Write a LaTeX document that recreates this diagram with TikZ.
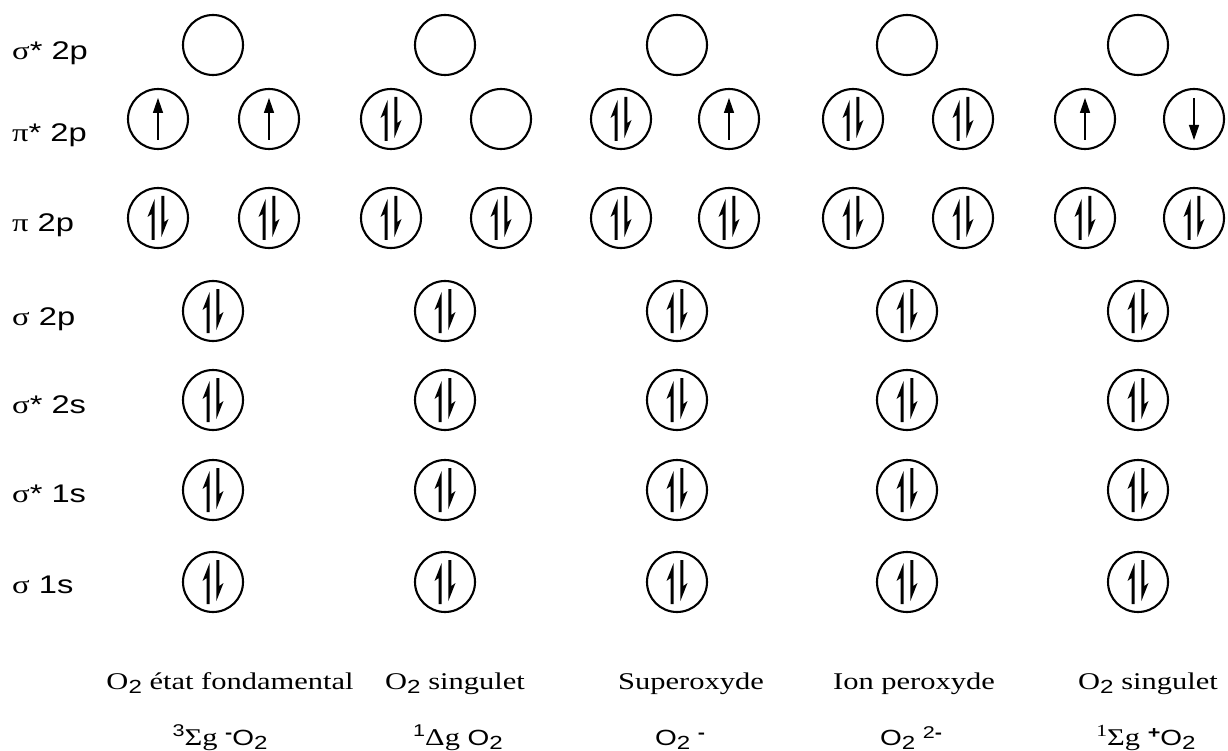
\documentclass[tikz,border=0pt]{standalone}
\usepackage{fontspec}
\setmainfont{Liberation Serif}
\setsansfont{Liberation Sans}
\usetikzlibrary{calc}

% raised / lowered sans-serif indices
\newcommand\supsf[2][9pt]{\raisebox{#1}{\fontsize{17}{17}\selectfont\sffamily #2}}
\newcommand\subsf[1]{\raisebox{-4pt}{\fontsize{19}{19}\selectfont\sffamily #1}}
\newcommand\oxy{{\sffamily\fontsize{22}{22}\selectfont O}}

% electron spins drawn inside an orbital node
\newcommand\spinpair[1]{%
  \begin{scope}[shift={(#1.center)}]
    \fill (-3.4,-19) -- (-10.5,-1) -- (-6.4,-4) -- (-6.4,22) -- (-3.4,22) -- cycle;
    \fill (3.4,19) -- (10.5,1) -- (6.4,4) -- (6.4,-22) -- (3.4,-22) -- cycle;
  \end{scope}}
\newcommand\spinup[1]{%
  \begin{scope}[shift={(#1.center)}]
    \draw[line width=2.4pt] (0,21) -- (0,-8);
    \fill (0,-21) -- (-5.2,-6) -- (5.2,-6) -- cycle;
  \end{scope}}
\newcommand\spindown[1]{%
  \begin{scope}[shift={(#1.center)}]
    \draw[line width=2.4pt] (0,-21) -- (0,8);
    \fill (0,21) -- (-5.2,6) -- (5.2,6) -- cycle;
  \end{scope}}

\tikzset{
  orb/.style={circle, draw, line width=2.1pt, minimum size=60pt, inner sep=0pt},
  lvl/.style={anchor=base west, inner sep=0pt, font=\sffamily\fontsize{25.5}{28}\selectfont},
  species/.style={anchor=base, inner sep=0pt, font=\rmfamily\fontsize{24}{28}\selectfont},
}

\begin{document}
\begin{tikzpicture}[x=1pt, y=-1pt]
  \fill[white] (0,0) rectangle (1228,751);
  \useasboundingbox (0,0) rectangle (1228,751);

  % level names
  \node[lvl] (l-ss2p) at (12,60)  {\scalebox{1.28}[1]{{\rmfamily σ}* 2p}};
  \node[lvl] (l-ps2p) at (12,142) {\scalebox{1.28}[1]{{\rmfamily π}* 2p}};
  \node[lvl] (l-p2p)  at (12,232) {\scalebox{1.28}[1]{{\rmfamily π} 2p}};
  \node[lvl] (l-s2p)  at (12,325) {\scalebox{1.28}[1]{{\rmfamily σ} 2p}};
  \node[lvl] (l-ss2s) at (12,413) {\scalebox{1.28}[1]{{\rmfamily σ}* 2s}};
  \node[lvl] (l-ss1s) at (12,502) {\scalebox{1.28}[1]{{\rmfamily σ}* 1s}};
  \node[lvl] (l-s1s)  at (12,593) {\scalebox{1.28}[1]{{\rmfamily σ} 1s}};

  % single orbitals: sigma* 2p (empty) and the four filled sigma levels
  \foreach \c/\x in {1/213, 2/445, 3/677, 4/907, 5/1138} {
    \node[orb] (ss2p-\c) at (\x,45) {};
    \foreach \r/\y in {s2p/311, ss2s/400, ss1s/490, s1s/582} {
      \node[orb] (\r-\c) at (\x,\y) {};
      \spinpair{\r-\c}
    }
  }

  % degenerate pi and pi* pairs
  \foreach \c/\xa/\xb in {1/158/269, 2/391/501, 3/621/729, 4/853/963, 5/1085/1194} {
    \node[orb] (ps-\c-a) at (\xa,119) {};
    \node[orb] (ps-\c-b) at (\xb,119) {};
    \node[orb] (p-\c-a) at (\xa,218) {};
    \node[orb] (p-\c-b) at (\xb,218) {};
    \spinpair{p-\c-a}
    \spinpair{p-\c-b}
  }

  % pi* occupation of each species
  \spinup{ps-1-a}   \spinup{ps-1-b}
  \spinpair{ps-2-a}
  \spinpair{ps-3-a} \spinup{ps-3-b}
  \spinpair{ps-4-a} \spinpair{ps-4-b}
  \spinup{ps-5-a}   \spindown{ps-5-b}

  % species names
  \node[species] (n1) at (230,689) {\scalebox{1.27}[1]{O\subsf{2} état fondamental}};
  \node[species] (n2) at (455,689) {\scalebox{1.27}[1]{O\subsf{2} singulet}};
  \node[species] (n3) at (691,689) {\scalebox{1.27}[1]{Superoxyde}};
  \node[species] (n4) at (914,689) {\scalebox{1.27}[1]{Ion peroxyde}};
  \node[species] (n5) at (1148,689) {\scalebox{1.27}[1]{O\subsf{2} singulet}};

  % term symbols and formulas
  \node[species] (t1) at (220,745) {\scalebox{1.27}[1]{\supsf{3}Σg \supsf[7pt]{\bfseries -}\oxy\subsf{2}}};
  \node[species] (t2) at (458,745) {\scalebox{1.27}[1]{\supsf{1}Δg \oxy\subsf{2}}};
  \node[species] (t3) at (680,745) {\scalebox{1.27}[1]{\oxy\subsf{2} \supsf[7pt]{\bfseries -}}};
  \node[species] (t4) at (911,745) {\scalebox{1.27}[1]{\oxy\subsf{2} \supsf[7pt]{2\bfseries -}}};
  \node[species] (t5) at (1146,745) {\scalebox{1.27}[1]{\supsf{\rmfamily 1}Σg \supsf[7pt]{\bfseries +}\oxy\subsf{2}}};
\end{tikzpicture}
\end{document}
